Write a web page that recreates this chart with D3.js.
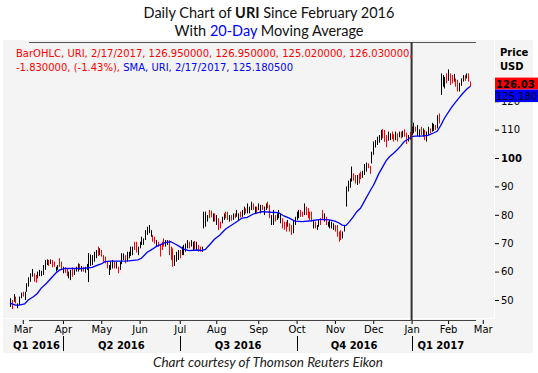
<!DOCTYPE html>
<html>
<head>
<meta charset="utf-8">
<script src="https://cdn.jsdelivr.net/npm/d3@7"></script>
<style>
  body { margin: 0; background: #fff; }
  svg text { font-family: "DejaVu Sans", sans-serif; }
</style>
</head>
<body>
<div id="chart"></div>
<script>
// trading calendar
const firstDay = '2016-02-19';
const lastTick = '2017-03-01';
const holidays = ['2016-03-25', '2016-05-30', '2016-07-04', '2016-09-05', '2016-11-24',
                  '2016-12-26', '2017-01-02', '2017-01-16', '2017-02-20'];

const monthLabels = ['Mar', 'Apr', 'May', 'Jun', 'Jul', 'Aug', 'Sep', 'Oct', 'Nov', 'Dec', 'Jan', 'Feb', 'Mar'];
const quarterLabels = ['Q1 2016', 'Q2 2016', 'Q3 2016', 'Q4 2016', 'Q1 2017'];
const priceTicks = [50, 60, 70, 80, 90, 100, 110, 120];

// daily bars, URI
const opens = [
  48.5, 49.4, 50.2, 50.7, 47.6, 49.1, 51.2, 52.6, 50.9, 53.8,
  55.7, 57.3, 59.0, 58.8, 58.3, 58.3, 59.1, 59.0, 59.9, 61.6,
  62.9, 63.7, 63.2, 63.6, 63.1, 60.5, 61.1, 64.1, 62.9, 60.1,
  61.1, 60.6, 58.3, 58.1, 60.8, 59.4, 60.5, 60.9, 62.3, 60.6,
  61.4, 60.2, 61.2, 58.0, 63.2, 63.4, 64.5, 65.6, 68.1, 66.5,
  67.1, 65.3, 64.8, 63.0, 59.8, 61.5, 62.0, 63.0, 61.8, 61.2,
  61.5, 63.8, 64.8, 65.2, 64.6, 65.4, 66.5, 66.7, 69.9, 69.7,
  66.7, 68.9, 70.3, 70.1, 72.2, 73.8, 74.4, 73.0, 72.4, 71.8,
  69.5, 70.2, 68.6, 69.9, 71.1, 69.5, 69.9, 70.0, 67.9, 66.9,
  63.1, 64.5, 65.1, 67.0, 66.7, 66.9, 67.9, 69.1, 70.0, 69.5,
  68.5, 70.2, 68.5, 68.9, 68.4, 67.5, 76.0, 77.4, 78.3, 81.1,
  81.0, 78.5, 79.9, 77.5, 78.0, 77.1, 77.7, 78.9, 80.6, 80.5,
  78.3, 79.5, 78.9, 80.2, 80.0, 78.9, 80.7, 80.0, 80.8, 81.9,
  81.5, 81.2, 82.6, 83.5, 81.2, 82.4, 82.4, 81.4, 83.1, 80.8,
  82.4, 84.1, 82.6, 77.5, 78.0, 79.4, 78.9, 79.7, 78.0, 78.1,
  77.0, 76.9, 76.5, 76.4, 75.7, 74.9, 77.3, 79.1, 79.7, 81.2,
  80.7, 81.1, 82.3, 81.6, 80.5, 80.4, 76.1, 77.1, 75.2, 76.5,
  78.3, 81.0, 78.5, 78.7, 76.3, 76.1, 75.9, 75.4, 75.9, 75.6,
  73.4, 73.9, 72.4, 74.8, 83.5, 89.1, 90.4, 92.5, 94.1, 93.4,
  91.5, 93.9, 94.7, 93.7, 95.2, 96.2, 97.8, 96.6, 99.3, 102.5,
  104.5, 105.5, 106.2, 107.4, 109.5, 109.1, 107.2, 107.1, 107.0, 108.8,
  107.9, 107.2, 108.1, 107.9, 108.8, 108.0, 109.6, 108.1, 106.5, 108.7,
  109.0, 109.8, 110.7, 108.9, 108.3, 110.4, 108.4, 109.2, 106.9, 109.0,
  110.1, 110.2, 110.3, 111.3, 111.8, 115.0, 122.8, 126.3, 125.7, 129.1,
  128.4, 129.0, 128.6, 127.7, 127.4, 126.7, 124.3, 126.2, 127.6, 128.8,
  128.5, 129.2, 126.95
];
const highs = [
  50.6, 50.0, 52.1, 51.2, 48.8, 51.2, 52.6, 52.9, 52.9, 55.9,
  58.0, 59.4, 60.9, 59.4, 58.8, 60.0, 60.6, 60.3, 62.3, 64.1,
  64.3, 64.1, 64.3, 64.1, 63.5, 61.7, 62.3, 64.7, 63.5, 61.7,
  61.5, 61.1, 60.0, 60.6, 61.5, 60.8, 61.7, 62.9, 62.7, 62.0,
  61.7, 61.7, 62.7, 66.5, 66.0, 65.8, 67.0, 67.6, 68.8, 68.2,
  67.6, 65.8, 65.3, 63.5, 62.3, 63.5, 64.1, 63.5, 63.5, 61.7,
  63.5, 66.5, 66.4, 65.8, 67.0, 67.0, 68.8, 68.8, 70.5, 70.5,
  68.8, 70.5, 72.3, 71.7, 74.6, 75.8, 76.4, 74.6, 72.9, 72.3,
  71.1, 70.5, 69.4, 70.5, 71.7, 71.1, 71.1, 71.1, 68.8, 68.2,
  65.8, 67.0, 67.6, 67.6, 68.8, 69.4, 69.9, 71.1, 70.5, 71.1,
  70.5, 70.8, 70.5, 69.4, 68.8, 68.8, 81.1, 81.1, 79.9, 81.7,
  81.5, 80.5, 80.5, 79.9, 78.8, 77.6, 79.3, 80.5, 81.1, 81.1,
  79.9, 79.9, 80.5, 80.5, 81.7, 80.5, 81.1, 81.7, 82.9, 82.3,
  84.0, 82.9, 84.6, 84.0, 82.9, 82.9, 84.0, 83.5, 83.5, 82.9,
  84.0, 84.6, 83.5, 79.9, 81.7, 79.9, 80.5, 81.7, 80.5, 78.8,
  77.6, 77.6, 78.2, 77.0, 76.4, 78.2, 79.3, 81.1, 81.7, 81.7,
  81.1, 84.0, 82.9, 82.3, 81.1, 81.1, 78.2, 77.6, 76.4, 78.2,
  78.8, 81.7, 80.5, 79.3, 77.6, 78.2, 77.6, 77.0, 76.4, 76.4,
  74.1, 74.6, 74.1, 76.4, 90.0, 92.0, 92.8, 97.0, 94.6, 94.0,
  94.0, 94.6, 95.2, 95.5, 97.9, 98.4, 98.1, 97.2, 102.2, 105.8,
  106.3, 107.5, 108.1, 109.9, 110.2, 109.9, 108.1, 109.3, 108.7, 109.3,
  108.4, 109.3, 108.7, 109.3, 109.3, 109.6, 110.1, 108.9, 108.1, 109.3,
  111.0, 112.4, 111.0, 111.6, 110.1, 111.0, 110.4, 109.9, 109.3, 111.0,
  110.4, 112.4, 112.0, 111.6, 115.1, 115.7, 129.8, 129.2, 128.6, 129.8,
  131.2, 129.8, 129.2, 129.6, 128.0, 127.5, 126.5, 128.0, 129.2, 129.2,
  129.8, 129.8, 126.95
];
const lows = [
  47.6, 46.8, 49.4, 48.8, 47.1, 48.2, 50.6, 51.2, 50.0, 52.9,
  54.7, 56.4, 58.2, 56.4, 56.1, 57.6, 58.4, 58.4, 58.8, 60.6,
  62.3, 62.0, 62.7, 61.5, 61.7, 60.0, 60.6, 61.7, 60.6, 59.4,
  59.6, 58.4, 57.6, 57.0, 58.2, 58.8, 60.0, 60.0, 60.6, 60.0,
  60.0, 59.6, 60.6, 56.3, 62.0, 62.3, 63.5, 64.7, 65.5, 65.8,
  65.3, 63.5, 62.9, 61.1, 58.8, 60.6, 61.1, 61.1, 61.1, 59.4,
  60.6, 62.6, 64.1, 62.9, 63.5, 64.7, 65.5, 65.8, 67.6, 66.7,
  65.8, 68.2, 69.4, 69.4, 71.1, 72.9, 73.5, 72.3, 70.5, 69.9,
  68.8, 68.8, 65.3, 67.6, 68.8, 68.8, 69.4, 65.8, 64.1, 61.7,
  62.0, 63.5, 64.1, 64.7, 65.8, 65.8, 67.0, 68.2, 68.2, 68.8,
  67.6, 67.8, 67.6, 67.0, 67.0, 67.0, 75.2, 75.8, 77.6, 78.8,
  79.1, 77.6, 77.6, 76.4, 74.6, 75.2, 77.0, 78.2, 78.8, 78.2,
  77.6, 77.9, 78.2, 78.8, 79.3, 78.2, 79.1, 79.3, 79.9, 80.5,
  80.5, 80.5, 81.7, 81.7, 80.5, 80.5, 81.7, 80.5, 81.7, 79.9,
  81.7, 82.3, 78.8, 76.4, 76.4, 77.6, 78.2, 78.8, 77.0, 75.2,
  74.7, 74.1, 75.8, 74.1, 72.9, 73.5, 76.4, 78.2, 78.8, 79.3,
  79.3, 79.9, 79.9, 78.8, 78.2, 77.6, 75.2, 75.2, 74.7, 75.8,
  76.4, 78.2, 77.6, 76.4, 75.8, 75.2, 75.2, 74.7, 74.1, 72.3,
  70.5, 71.1, 71.7, 74.1, 82.9, 88.2, 89.5, 91.7, 92.0, 91.0,
  90.5, 91.0, 92.5, 93.0, 94.0, 95.2, 96.4, 94.4, 98.1, 101.1,
  103.7, 104.6, 105.4, 106.3, 106.9, 105.7, 103.8, 106.1, 106.3, 106.6,
  105.8, 106.3, 105.8, 107.3, 106.9, 107.3, 107.5, 104.9, 105.8, 106.3,
  108.1, 108.7, 109.3, 107.7, 107.5, 108.1, 107.5, 106.3, 105.8, 108.1,
  108.7, 109.3, 109.5, 109.9, 110.4, 112.2, 122.2, 125.1, 124.5, 126.3,
  127.2, 125.7, 126.3, 126.9, 125.1, 123.4, 123.4, 125.4, 126.9, 127.2,
  128.0, 126.9, 125.02
];
const closes = [
  50.0, 47.8, 51.6, 49.5, 48.5, 50.6, 52.2, 51.7, 52.3, 55.3,
  57.3, 58.8, 60.4, 57.3, 56.9, 59.5, 60.2, 59.9, 61.6, 63.4,
  63.9, 62.6, 64.0, 62.3, 62.2, 61.4, 62.0, 62.6, 61.5, 61.2,
  60.2, 59.2, 59.5, 59.9, 59.2, 60.4, 61.4, 62.3, 61.2, 61.6,
  60.5, 61.3, 62.3, 65.0, 65.2, 65.1, 66.3, 67.0, 66.5, 67.7,
  66.0, 64.2, 63.6, 61.8, 61.6, 62.9, 63.5, 61.8, 63.0, 60.1,
  62.9, 65.7, 65.9, 63.8, 66.3, 66.5, 68.1, 68.2, 68.5, 67.8,
  68.2, 70.0, 71.7, 71.2, 73.9, 75.2, 75.8, 74.1, 71.2, 70.6,
  70.6, 69.3, 66.5, 68.5, 69.7, 70.6, 70.8, 67.4, 65.5, 63.6,
  65.0, 66.3, 66.9, 65.6, 68.2, 68.7, 69.3, 70.5, 68.9, 70.6,
  69.9, 68.7, 69.9, 67.7, 67.5, 68.4, 80.0, 80.0, 79.4, 79.7,
  79.8, 79.9, 78.5, 79.2, 75.9, 75.9, 78.8, 80.0, 79.5, 79.1,
  79.4, 78.5, 80.0, 79.3, 81.2, 80.0, 79.7, 81.2, 82.3, 81.0,
  83.3, 82.4, 84.0, 82.4, 82.4, 81.2, 83.5, 82.9, 82.2, 82.3,
  83.5, 83.0, 80.2, 79.2, 80.6, 78.3, 80.0, 81.1, 79.8, 76.3,
  75.6, 75.2, 77.7, 75.0, 74.0, 77.3, 78.7, 80.5, 81.1, 80.0,
  79.8, 83.2, 80.8, 79.9, 79.1, 78.7, 77.6, 75.9, 76.1, 77.7,
  77.1, 79.2, 79.9, 77.3, 77.2, 77.6, 77.1, 76.5, 74.8, 73.5,
  71.6, 72.1, 73.6, 75.9, 88.7, 91.2, 92.0, 95.8, 92.8, 91.9,
  93.3, 92.0, 93.3, 95.0, 97.1, 97.8, 96.9, 95.2, 101.4, 104.9,
  105.8, 106.9, 107.6, 109.2, 107.9, 107.0, 105.1, 108.7, 108.2, 107.4,
  106.6, 108.7, 106.7, 108.9, 107.6, 109.1, 108.3, 106.1, 107.6, 107.2,
  110.4, 111.7, 109.8, 110.8, 109.6, 109.0, 109.8, 107.4, 108.6, 110.4,
  109.2, 111.8, 111.5, 110.4, 114.2, 113.2, 128.3, 128.4, 127.8, 127.3,
  130.4, 126.9, 127.2, 129.1, 126.0, 124.6, 125.9, 127.5, 128.7, 127.8,
  129.4, 127.86, 126.03
];

// 20-day SMA at these bar positions
const smaDays = [0, 3, 5, 8, 10, 13, 15, 17, 20, 23, 25, 27, 30, 35, 40, 45, 48, 50, 52, 55,
  60, 65, 70, 72, 75, 78, 80, 83, 85, 88, 90, 93, 95, 98, 103, 105, 107, 110, 112, 115,
  118, 120, 123, 125, 127, 130, 133, 136, 138, 143, 147, 150, 153, 156, 160, 165, 170, 175, 178, 180,
  182, 184, 186, 188, 190, 192, 195, 197, 199, 200, 202, 204, 206, 208, 210, 212, 214, 216, 218, 220,
  222, 225, 229, 232, 234, 236, 238, 240, 242, 244, 246, 248, 250, 252];
const smaValues = [48.9, 48.2, 48.2, 48.6, 50.0, 51.2, 52.3, 54.1, 55.9, 58.0, 59.4, 60.5, 61.1, 61.1, 61.1, 61.5, 62.3, 62.7, 63.5, 63.7,
  63.7, 63.8, 64.1, 64.7, 66.7, 67.9, 68.8, 69.7, 70.2, 70.5, 69.9, 68.8, 67.9, 67.4, 67.6, 67.4, 67.8, 69.9, 71.4, 72.9,
  74.9, 75.8, 77.0, 77.9, 78.8, 79.1, 80.2, 80.8, 81.1, 80.9, 80.8, 79.6, 78.8, 77.8, 77.6, 77.9, 78.4, 78.2, 77.8, 77.2,
  76.4, 76.2, 77.6, 79.3, 81.1, 82.3, 85.8, 88.1, 90.3, 91.6, 94.4, 96.7, 99.0, 100.5, 101.6, 102.8, 104.2, 105.8, 106.6, 107.5,
  107.7, 107.7, 108.0, 108.8, 109.4, 111.5, 114.0, 116.0, 117.9, 119.6, 121.2, 122.7, 124.1, 125.1805];

const W = 538, H = 373;
const svg = d3.select('#chart').append('svg')
              .attr('width', W)
              .attr('height', H);

const parse = d3.utcParse('%Y-%m-%d');
const fmt = d3.utcFormat('%Y-%m-%d');
const days = d3.utcDay.range(parse(firstDay), d3.utcDay.offset(parse(lastTick), 1))
               .filter(d => d.getUTCDay() % 6 !== 0 && !holidays.includes(fmt(d)));

const n = closes.length;
const x = d3.scaleLinear().domain([0, n - 1]).range([10, 470]);
const y = d3.scaleLinear().domain([50, 110]).range([300, 129.6]);

// title
const title = svg.append('g').attr('text-anchor', 'middle').attr('fill', '#111');
const t1 = title.append('text').attr('x', 269).attr('y', 18)
                .style('font-family', 'Lato, sans-serif').style('font-size', '14.5px');
t1.append('tspan').text('Daily Chart of ');
t1.append('tspan').attr('font-weight', 'bold').text('URI');
t1.append('tspan').text(' Since February 2016');
const t2 = title.append('text').attr('x', 269).attr('y', 36)
                .style('font-family', 'Lato, sans-serif').style('font-size', '14.5px');
t2.append('tspan').text('With ');
t2.append('tspan').attr('fill', '#0000ff').text('20-Day');
t2.append('tspan').text(' Moving Average');

// panel
svg.append('rect').attr('x', 3).attr('y', 40).attr('width', 530).attr('height', 313).attr('fill', '#f4f4f4');
svg.append('line').attr('x1', 494.5).attr('x2', 494.5).attr('y1', 40).attr('y2', 318).attr('stroke', '#fff');
svg.append('line').attr('x1', 3).attr('x2', 494.5).attr('y1', 318.5).attr('y2', 318.5).attr('stroke', '#fff');
svg.append('line').attr('x1', 29).attr('x2', 476).attr('y1', 42.5).attr('y2', 42.5).attr('stroke', '#555');

// bars
const idx = d3.range(n);
svg.append('g').selectAll('line')
   .data(idx)
   .enter()
   .append('line')
   .attr('x1', i => Math.round(x(i)) + 0.5)
   .attr('x2', i => Math.round(x(i)) + 0.5)
   .attr('y1', i => y(highs[i]))
   .attr('y2', i => y(lows[i]))
   .attr('stroke', i => closes[i] < opens[i] ? '#ff0000' : '#000')
   .attr('stroke-width', 1);

// SMA
const line = d3.line().x(d => x(d[0])).y(d => y(d[1]));
svg.append('path')
   .datum(smaDays.map((d, i) => [d, smaValues[i]]))
   .attr('d', line)
   .attr('fill', 'none')
   .attr('stroke', '#0000ff')
   .attr('stroke-width', 1.3);

// year divider
const janIdx = days.findIndex(d => fmt(d) === '2017-01-03');
svg.append('line').attr('x1', x(janIdx)).attr('x2', x(janIdx))
   .attr('y1', 42).attr('y2', 320).attr('stroke', '#333').attr('stroke-width', 2);

// price axis
const yAxis = d3.axisRight(y).tickValues(priceTicks).tickSize(4).tickPadding(2);
const ya = svg.append('g').attr('transform', 'translate(495,0)').call(yAxis);
ya.select('.domain').remove();
ya.selectAll('line').attr('stroke', '#000');
ya.selectAll('text').attr('fill', '#000').style('font-family', '"DejaVu Sans", sans-serif').style('font-size', '10px')
  .attr('font-weight', d => d === 100 ? 'bold' : 'normal');
svg.append('text').attr('x', 500).attr('y', 56).attr('font-weight', 'bold').style('font-size', '10px').text('Price');
svg.append('text').attr('x', 500).attr('y', 70).attr('font-weight', 'bold').style('font-size', '10px').text('USD');

// last value labels
const lastClose = closes[n - 1], lastSma = smaValues[smaValues.length - 1];
const cy = y(lastClose);
svg.append('rect').attr('x', 495).attr('y', cy - 6.5).attr('width', 43).attr('height', 12).attr('fill', '#ff0000');
svg.append('rect').attr('x', 495).attr('y', cy + 5.5).attr('width', 43).attr('height', 12.5).attr('fill', '#0000ff');
svg.append('text').attr('x', 496).attr('y', cy + 3.5).attr('font-weight', 'bold').style('font-size', '10px').text(lastClose.toFixed(2));
svg.append('text').attr('x', 496).attr('y', cy + 15.5).style('font-size', '10px')
   .text((Math.floor(lastSma * 1000) / 1000).toFixed(3));

// legend
const lg = svg.append('g').style('font-size', '10px');
lg.append('text').attr('x', 16).attr('y', 56.5).attr('fill', '#ff0000')
  .text(`BarOHLC, URI, 2/17/2017, ${opens[n - 1].toFixed(6)}, ${highs[n - 1].toFixed(6)}, ${lows[n - 1].toFixed(6)}, ${lastClose.toFixed(6)},`);
const chg = lastClose - closes[n - 2];
const l2 = lg.append('text').attr('x', 16).attr('y', 70.5);
l2.append('tspan').attr('fill', '#ff0000').text(`${chg.toFixed(6)}, (${(chg / closes[n - 2] * 100).toFixed(2)}%), `);
l2.append('tspan').attr('fill', '#0000ff').text(`SMA, URI, 2/17/2017, ${lastSma.toFixed(6)}`);

// time axis
const monthIdx = days.map((d, i) => i).filter(i => i > 0 && days[i].getUTCMonth() !== days[i - 1].getUTCMonth());
const xAxis = d3.axisBottom(x).tickValues(monthIdx).tickSize(4).tickPadding(2)
                .tickFormat((d, i) => monthLabels[i]);
const xa = svg.append('g').attr('transform', 'translate(0,320)').call(xAxis);
xa.select('.domain').remove();
xa.selectAll('line').attr('stroke', '#000');
xa.selectAll('text').attr('fill', '#000').style('font-family', '"DejaVu Sans", sans-serif').style('font-size', '10px');
svg.append('line').attr('x1', 29).attr('x2', 476).attr('y1', 320.5).attr('y2', 320.5).attr('stroke', '#444');

// quarters
const qIdx = monthIdx.filter(i => [3, 6, 9, 0].includes(days[i].getUTCMonth()));
const qEdges = [0, ...qIdx, n - 1];
svg.append('g').selectAll('line').data(qIdx).enter().append('line')
   .attr('x1', i => Math.round(x(i)) + 0.5).attr('x2', i => Math.round(x(i)) + 0.5)
   .attr('y1', 336).attr('y2', 351).attr('stroke', '#000');
svg.append('g').selectAll('text').data(quarterLabels).enter().append('text')
   .attr('x', (d, i) => (x(qEdges[i]) + x(qEdges[i + 1])) / 2)
   .attr('y', 349).attr('text-anchor', 'middle').attr('font-weight', 'bold')
   .style('font-size', '10px').text(d => d);

// credit
svg.append('text').attr('x', 268).attr('y', 367).attr('text-anchor', 'middle')
   .style('font-family', 'Lato, sans-serif').style('font-style', 'italic').style('font-size', '13.5px')
   .attr('fill', '#222').text('Chart courtesy of Thomson Reuters Eikon');
</script>
</body>
</html>
